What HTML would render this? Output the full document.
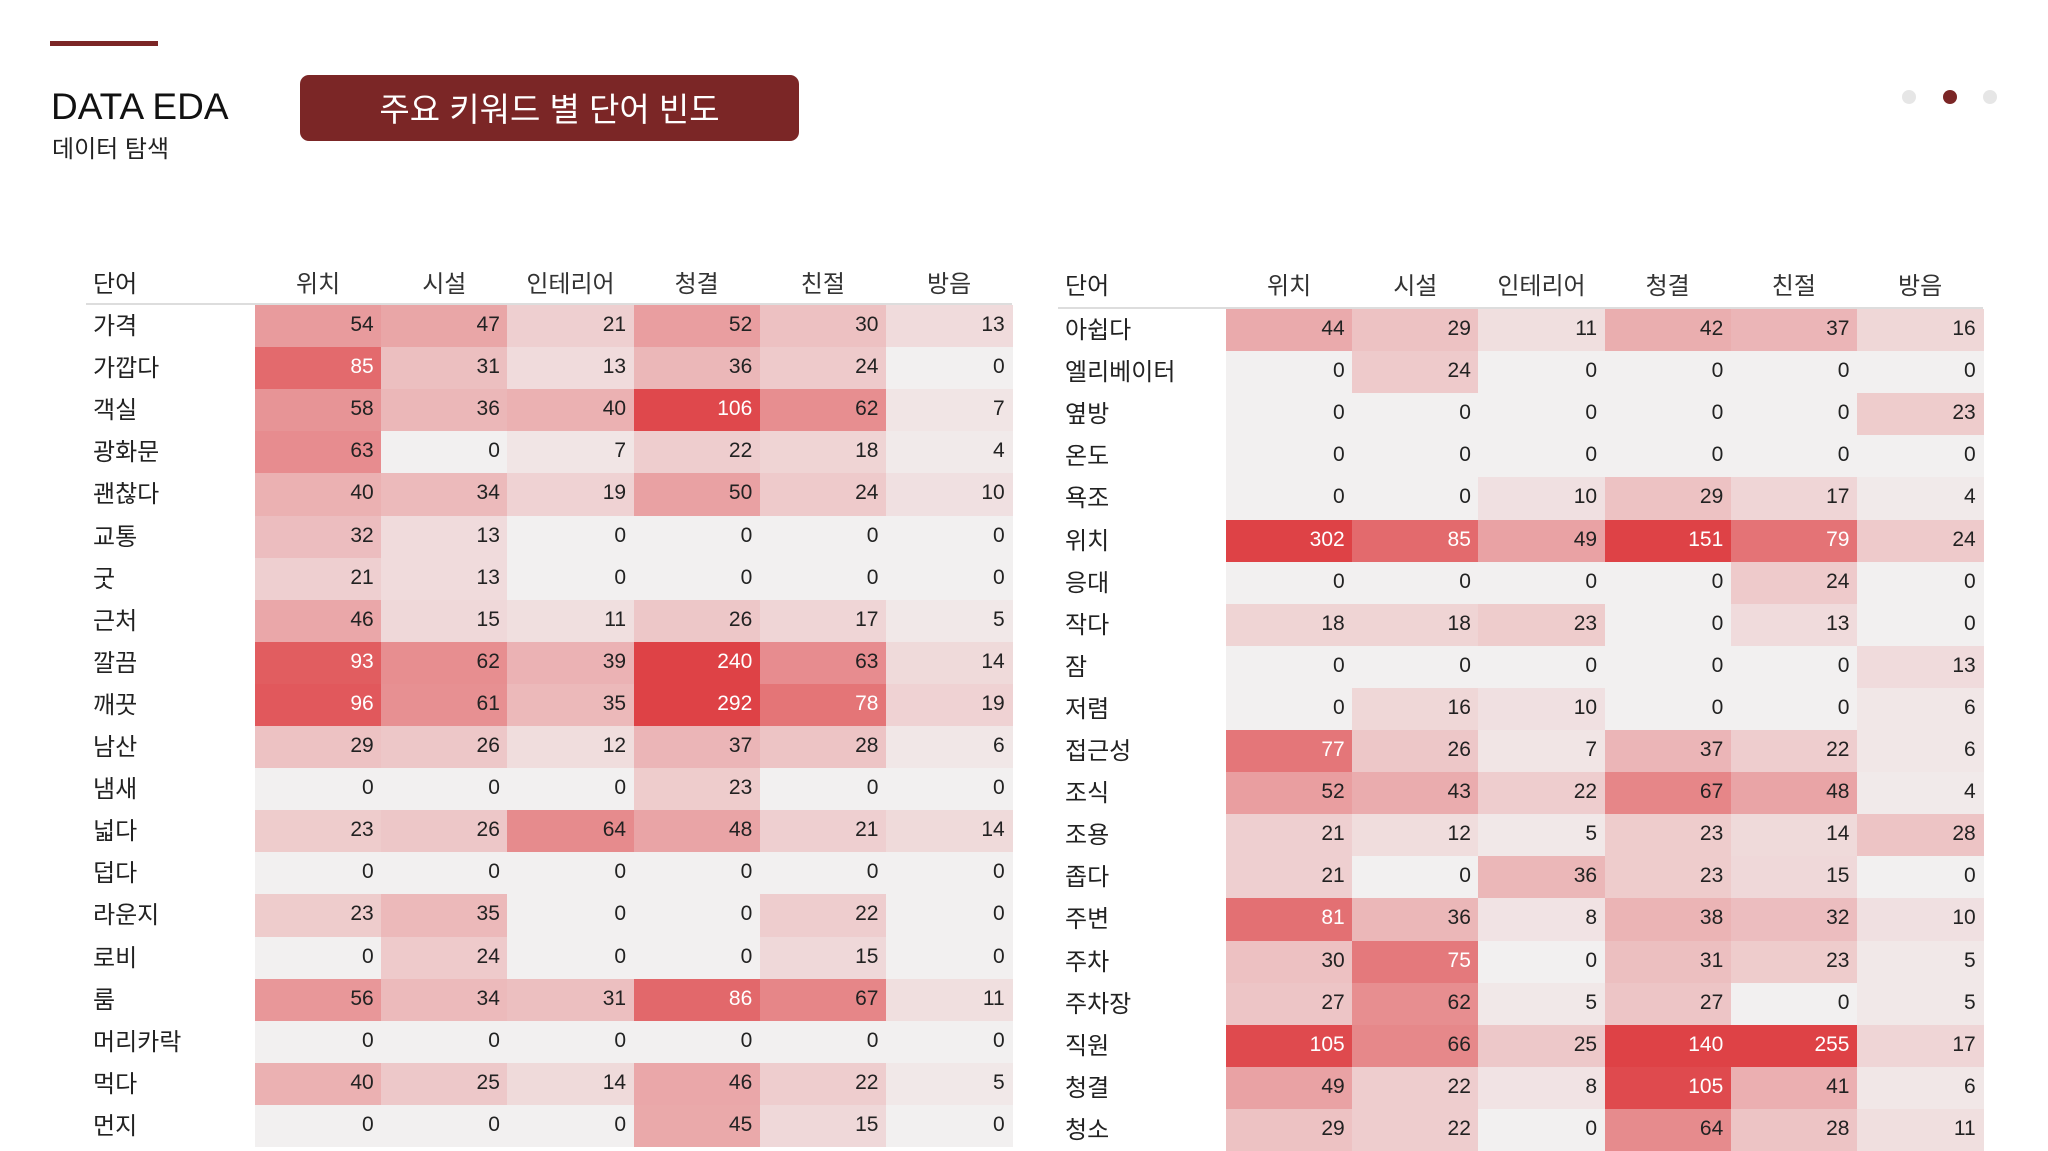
<!DOCTYPE html>
<html><head><meta charset="utf-8">
<style>
html,body{margin:0;padding:0;background:#fff;}
body{width:2048px;height:1148px;position:relative;overflow:hidden;font-family:"Liberation Sans","Noto Sans CJK KR",sans-serif;color:#222;}
.abs{position:absolute;}
.cell{position:absolute;box-sizing:border-box;text-align:right;padding-right:8px;font-size:21px;}
.lbl{position:absolute;font-size:24px;color:#222;}
.hdr{position:absolute;font-size:24px;color:#333;text-align:center;}
</style></head><body>
<div class="abs" style="left:50px;top:41px;width:108px;height:5px;background:#7b2626;"></div>
<div class="abs" style="left:51px;top:86px;font-size:37px;color:#111;">DATA EDA</div>
<div class="abs" style="left:52px;top:129px;font-size:24px;color:#222;">데이터 탐색</div>
<div class="abs" style="left:300px;top:75px;width:499px;height:66px;background:#7b2626;border-radius:9px;color:#fff;font-size:33px;line-height:70px;text-align:center;">주요 키워드 별 단어 빈도</div>
<div class="abs" style="left:1902px;top:90px;width:14px;height:14px;border-radius:50%;background:#e6e6e6;"></div>
<div class="abs" style="left:1943px;top:90px;width:14px;height:14px;border-radius:50%;background:#7b2626;"></div>
<div class="abs" style="left:1983px;top:90px;width:14px;height:14px;border-radius:50%;background:#e6e6e6;"></div>
<div id="root"></div>
<script>
const columns = ["위치","시설","인테리어","청결","친절","방음"];
const leftWords = ["가격","가깝다","객실","광화문","괜찮다","교통","굿","근처","깔끔","깨끗","남산","냄새","넓다","덥다","라운지","로비","룸","머리카락","먹다","먼지"];
const leftValues = [
[54,47,21,52,30,13],[85,31,13,36,24,0],[58,36,40,106,62,7],[63,0,7,22,18,4],[40,34,19,50,24,10],
[32,13,0,0,0,0],[21,13,0,0,0,0],[46,15,11,26,17,5],[93,62,39,240,63,14],[96,61,35,292,78,19],
[29,26,12,37,28,6],[0,0,0,23,0,0],[23,26,64,48,21,14],[0,0,0,0,0,0],[23,35,0,0,22,0],
[0,24,0,0,15,0],[56,34,31,86,67,11],[0,0,0,0,0,0],[40,25,14,46,22,5],[0,0,0,45,15,0]];
const rightWords = ["아쉽다","엘리베이터","옆방","온도","욕조","위치","응대","작다","잠","저렴","접근성","조식","조용","좁다","주변","주차","주차장","직원","청결","청소"];
const rightValues = [
[44,29,11,42,37,16],[0,24,0,0,0,0],[0,0,0,0,0,23],[0,0,0,0,0,0],[0,0,10,29,17,4],
[302,85,49,151,79,24],[0,0,0,0,24,0],[18,18,23,0,13,0],[0,0,0,0,0,13],[0,16,10,0,0,6],
[77,26,7,37,22,6],[52,43,22,67,48,4],[21,12,5,23,14,28],[21,0,36,23,15,0],[81,36,8,38,32,10],
[30,75,0,31,23,5],[27,62,5,27,0,5],[105,66,25,140,255,17],[49,22,8,105,41,6],[29,22,0,64,28,11]];

function color(v){
  const t=Math.min(v/110,1);
  const a=[242,240,240], b=[222,66,70];
  return 'rgb('+a.map((c,i)=>Math.round(c+(b[i]-c)*t)).join(',')+')';
}
function table(name, words, values, labelX, cellX, lineX, headerY, lineY){
  const root=document.getElementById('root');
  const cw=126.2, rh=42.1;
  const line=document.createElement('div');
  
  
  line.style.cssText='position:absolute;left:'+lineX+'px;top:'+lineY+'px;width:'+(cellX+cw*6-lineX)+'px;height:2px;background:#ddd;';
  root.appendChild(line);
  const h0=document.createElement('div');
  h0.className='lbl';
  
  
  h0.style.left=labelX+'px'; h0.style.top=(headerY-18)+'px';
  h0.textContent='단어';
  root.appendChild(h0);
  columns.forEach((c,j)=>{
    const h=document.createElement('div');
    h.className='hdr';
    
    
    h.style.left=(cellX+j*cw)+'px'; h.style.width=cw+'px'; h.style.top=(headerY-18)+'px';
    h.textContent=c;
    root.appendChild(h);
  });
  words.forEach((w,i)=>{
    const y=lineY+2+i*rh;
    const l=document.createElement('div');
    l.className='lbl';
    
    
    l.style.left=labelX+'px'; l.style.top=(y+1)+'px';
    l.textContent=w;
    root.appendChild(l);
    values[i].forEach((v,j)=>{
      const d=document.createElement('div');
      d.className='cell';
      
      
      d.style.left=(cellX+j*cw)+'px'; d.style.top=y+'px';
      d.style.width=(cw+0.5)+'px'; d.style.height=(rh+0.5)+'px';
      d.style.lineHeight=(rh-2)+'px';
      d.style.background=color(v);
      d.style.color=(v/110>0.66)?'#fff':'#222';
      d.textContent=v;
      root.appendChild(d);
    });
  });
}
table('left-table', leftWords, leftValues, 93, 255, 86, 282, 303);
table('right-table', rightWords, rightValues, 1065, 1226, 1058, 284, 307);
</script>
</body></html>
